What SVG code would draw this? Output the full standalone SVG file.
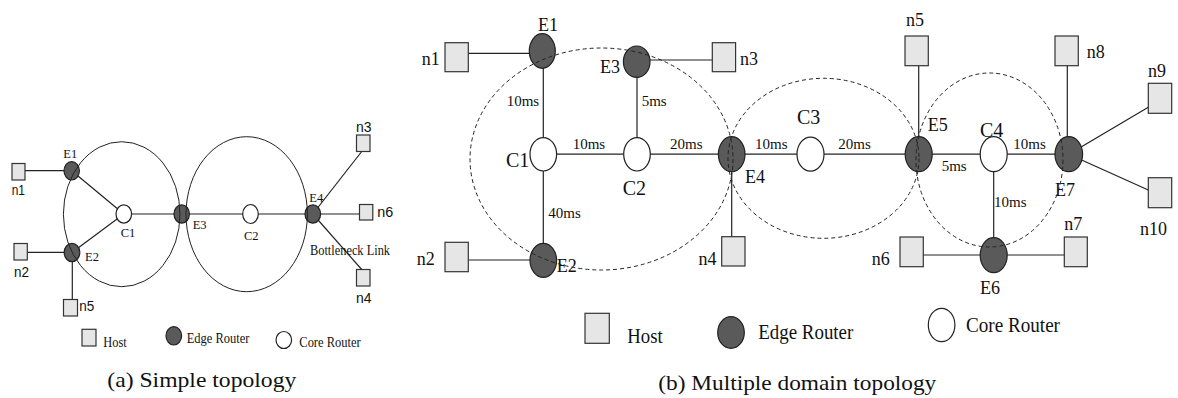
<svg xmlns="http://www.w3.org/2000/svg" width="1178" height="398" viewBox="0 0 1178 398">
  <style>
    .host { fill: #e6e6e6; stroke: #333; stroke-width: 1.2; }
    .edge { fill: #5a5a5a; stroke: #222; stroke-width: 1.2; }
    .core { fill: #fff; stroke: #222; stroke-width: 1.2; }
    .link { stroke: #222; stroke-width: 1.2; fill: none; }
    .ring { fill: none; stroke: #222; stroke-width: 1; }
    .domain { fill: none; stroke: #222; stroke-width: 1; stroke-dasharray: 4 3; }
    .serif { font-family: "Liberation Serif", "Times New Roman", serif; fill: #111; font-weight: normal; }
    .sans { font-family: "Liberation Sans", Arial, sans-serif; fill: #111; font-weight: normal; }
    .sm { font-size: 12.5px; }
    .smsans { font-size: 14px; }
    .lab { font-size: 18px; }
    .core-lab { font-size: 20px; }
    .ms { font-size: 15px; }
    .leg { font-size: 22px; }
    .cap { font-size: 22px; }
  </style>

  <!-- ===== (a) Simple topology ===== -->
  <g id="a-links" class="link">
    <line x1="25" y1="170.7" x2="71.7" y2="170.7"/>
    <line x1="71.7" y1="170.8" x2="123.8" y2="214"/>
    <line x1="72" y1="252.5" x2="123.8" y2="214"/>
    <line x1="27.3" y1="252.3" x2="72" y2="252.3"/>
    <line x1="72.3" y1="252.5" x2="72.3" y2="299.5"/>
    <line x1="123.8" y1="214" x2="359.5" y2="214"/>
    <line x1="312.8" y1="214" x2="361.7" y2="151.5"/>
    <line x1="312.8" y1="214" x2="361.7" y2="269.5"/>
  </g>

  <g id="a-n1"><rect class="host" x="12" y="163.5" width="13" height="16.5"/><text class="sans smsans" font-family="Liberation Sans, sans-serif" x="11.7" y="195" textLength="13.3" lengthAdjust="spacingAndGlyphs">n1</text></g>
  <g id="a-n2"><rect class="host" x="14" y="243.5" width="13.3" height="16.5"/><text class="sans smsans" font-family="Liberation Sans, sans-serif" x="14" y="276.7" textLength="15" lengthAdjust="spacingAndGlyphs">n2</text></g>
  <g id="a-n5"><rect class="host" x="63.5" y="299.5" width="14" height="16.5"/><text class="sans smsans" font-family="Liberation Sans, sans-serif" x="79.3" y="310.5" textLength="15" lengthAdjust="spacingAndGlyphs">n5</text></g>
  <g id="a-n3"><rect class="host" x="356.5" y="135" width="13.5" height="16.5"/><text class="sans smsans" font-family="Liberation Sans, sans-serif" x="356" y="131.7" textLength="15.5" lengthAdjust="spacingAndGlyphs">n3</text></g>
  <g id="a-n6"><rect class="host" x="359.5" y="204.5" width="13.3" height="15.5"/><text class="sans smsans" font-family="Liberation Sans, sans-serif" x="377.3" y="217.3" textLength="16" lengthAdjust="spacingAndGlyphs">n6</text></g>
  <g id="a-n4"><rect class="host" x="356.5" y="269.5" width="13.5" height="16.5"/><text class="sans smsans" font-family="Liberation Sans, sans-serif" x="356" y="303" textLength="15.5" lengthAdjust="spacingAndGlyphs">n4</text></g>

  <g id="a-E1"><ellipse class="edge" cx="71.7" cy="170.8" rx="7.7" ry="9.2"/><text class="serif sm" x="63.3" y="158">E1</text></g>
  <g id="a-E2"><ellipse class="edge" cx="72" cy="252.5" rx="7.8" ry="9.2"/><text class="serif sm" x="85" y="260.7">E2</text></g>
  <g id="a-E3"><ellipse class="edge" cx="181.7" cy="214" rx="7.7" ry="9.2"/><text class="serif sm" x="192.7" y="229">E3</text></g>
  <g id="a-E4"><ellipse class="edge" cx="312.8" cy="214" rx="7.8" ry="9.2"/><text class="serif sm" x="309.3" y="201.7">E4</text></g>
  <g id="a-C1"><ellipse class="core" cx="123.8" cy="214" rx="7.8" ry="9.2"/><text class="serif sm" x="120.7" y="237">C1</text></g>
  <g id="a-C2"><ellipse class="core" cx="250.5" cy="214" rx="7.8" ry="9.5"/><text class="serif sm" x="244" y="240">C2</text></g>

  <g id="a-domains">
    <ellipse class="ring" cx="121.7" cy="214.2" rx="58.3" ry="72.5"/>
    <ellipse class="ring" cx="246.7" cy="214.2" rx="60.7" ry="77.5"/>
  </g>
  <text class="serif" x="310" y="255" font-size="14" textLength="80" lengthAdjust="spacingAndGlyphs">Bottleneck Link</text>

  <g id="a-legend">
    <rect class="host" x="82" y="329.3" width="14" height="16.7"/>
    <text class="serif" x="103.3" y="346.5" font-size="14" textLength="23.4" lengthAdjust="spacingAndGlyphs">Host</text>
    <ellipse class="edge" cx="173.8" cy="335.8" rx="7.8" ry="9.2"/>
    <text class="serif" x="186.7" y="342.5" font-size="14" textLength="62.7" lengthAdjust="spacingAndGlyphs">Edge Router</text>
    <ellipse class="core" cx="283.8" cy="340" rx="7.8" ry="8.5"/>
    <text class="serif" x="299.3" y="346.5" font-size="14" textLength="61.4" lengthAdjust="spacingAndGlyphs">Core Router</text>
  </g>
  <text class="serif cap" x="107.3" y="387" textLength="189" lengthAdjust="spacingAndGlyphs">(a) Simple topology</text>

  <!-- ===== (b) Multiple domain topology ===== -->
  <g id="b-links" class="link">
    <line x1="468.3" y1="53.3" x2="542.3" y2="53.3"/>
    <line x1="543.3" y1="51" x2="543.3" y2="154.3"/>
    <line x1="543.3" y1="154.3" x2="543.3" y2="260.3"/>
    <line x1="468.3" y1="260" x2="543.3" y2="260"/>
    <line x1="636.7" y1="60" x2="712.3" y2="60"/>
    <line x1="637" y1="61.7" x2="637" y2="154.3"/>
    <line x1="543.3" y1="154.2" x2="1068.8" y2="154.2"/>
    <line x1="731.7" y1="154.2" x2="731.7" y2="236.7"/>
    <line x1="918.7" y1="65.7" x2="918.7" y2="154.2"/>
    <line x1="1067.3" y1="65.7" x2="1067.3" y2="154.2"/>
    <line x1="993.7" y1="154.2" x2="993.7" y2="255.2"/>
    <line x1="923.3" y1="255" x2="1064.3" y2="255"/>
    <line x1="1068.8" y1="154.2" x2="1148.3" y2="107.3"/>
    <line x1="1068.8" y1="154.2" x2="1148.3" y2="190"/>
  </g>

  <g id="b-n1"><rect class="host" x="445" y="42.7" width="23.3" height="29"/><text class="serif lab" x="421.7" y="65">n1</text></g>
  <g id="b-n2"><rect class="host" x="445" y="242.3" width="23.3" height="29.4"/><text class="serif lab" x="416.7" y="265">n2</text></g>
  <g id="b-n3"><rect class="host" x="712.3" y="42.7" width="23.3" height="29"/><text class="serif lab" x="740" y="65">n3</text></g>
  <g id="b-n4"><rect class="host" x="721.7" y="236.7" width="23.3" height="29.3"/><text class="serif lab" x="698.5" y="265">n4</text></g>
  <g id="b-n5"><rect class="host" x="905" y="36" width="23.3" height="29.7"/><text class="serif lab" x="906" y="26">n5</text></g>
  <g id="b-n6"><rect class="host" x="900" y="237" width="23.3" height="29.7"/><text class="serif lab" x="871.7" y="265">n6</text></g>
  <g id="b-n7"><rect class="host" x="1064.3" y="237" width="23" height="29.7"/><text class="serif lab" x="1064.3" y="230">n7</text></g>
  <g id="b-n8"><rect class="host" x="1055" y="36" width="23.3" height="29.7"/><text class="serif lab" x="1086.7" y="58">n8</text></g>
  <g id="b-n9"><rect class="host" x="1148.3" y="83.3" width="23.4" height="30"/><text class="serif lab" x="1148" y="77">n9</text></g>
  <g id="b-n10"><rect class="host" x="1148.3" y="177.7" width="23.4" height="30"/><text class="serif lab" x="1140" y="235">n10</text></g>

  <g id="b-E1"><ellipse class="edge" cx="542.3" cy="51" rx="13" ry="17.3"/><text class="serif lab" x="538" y="31">E1</text></g>
  <g id="b-E2"><ellipse class="edge" cx="543.3" cy="260.3" rx="13.3" ry="17"/><text class="serif lab" x="556.7" y="272">E2</text></g>
  <g id="b-E3"><ellipse class="edge" cx="636.7" cy="61.7" rx="13.3" ry="15.7"/><text class="serif lab" x="600" y="73">E3</text></g>
  <g id="b-E4"><ellipse class="edge" cx="731.7" cy="154.2" rx="13.3" ry="17.5"/><text class="serif lab" x="745" y="183">E4</text></g>
  <g id="b-E5"><ellipse class="edge" cx="918.7" cy="154.2" rx="13.5" ry="17.5"/><text class="serif lab" x="927.7" y="131">E5</text></g>
  <g id="b-E6"><ellipse class="edge" cx="993.7" cy="255.2" rx="13.5" ry="17.5"/><text class="serif lab" x="980" y="294">E6</text></g>
  <g id="b-E7"><ellipse class="edge" cx="1068.8" cy="154.2" rx="13.8" ry="17.5"/><text class="serif lab" x="1055" y="196">E7</text></g>

  <g id="b-C1"><ellipse class="core" cx="543.3" cy="154.3" rx="13.3" ry="16.7"/><text class="serif core-lab" x="506" y="167">C1</text></g>
  <g id="b-C2"><ellipse class="core" cx="637" cy="154.3" rx="13.3" ry="16.7"/><text class="serif core-lab" x="622.7" y="195">C2</text></g>
  <g id="b-C3"><ellipse class="core" cx="810.5" cy="154.2" rx="13.5" ry="17"/><text class="serif core-lab" x="797" y="124">C3</text></g>
  <g id="b-C4"><ellipse class="core" cx="993.7" cy="154.2" rx="13.5" ry="17.5"/><text class="serif core-lab" x="980" y="136.5">C4</text></g>

  <g id="b-delays" class="serif ms">
    <text x="506.7" y="106">10ms</text>
    <text x="641.7" y="106">5ms</text>
    <text x="572.7" y="149">10ms</text>
    <text x="670" y="149">20ms</text>
    <text x="548.3" y="218">40ms</text>
    <text x="755" y="149">10ms</text>
    <text x="838.3" y="149">20ms</text>
    <text x="941.7" y="170.7">5ms</text>
    <text x="1013.3" y="149">10ms</text>
    <text x="994" y="206.7">10ms</text>
  </g>

  <g id="b-domains">
    <ellipse class="domain" cx="601.5" cy="159" rx="131.5" ry="111"/>
    <ellipse class="domain" cx="823.5" cy="158.3" rx="95.5" ry="80"/>
    <ellipse class="domain" cx="989.5" cy="160" rx="73.5" ry="87"/>
  </g>

  <g id="b-legend">
    <rect class="host" x="585" y="313.3" width="24.3" height="30"/>
    <text class="serif leg" x="627.3" y="343" textLength="35.4" lengthAdjust="spacingAndGlyphs">Host</text>
    <ellipse class="edge" cx="731" cy="332.5" rx="13.3" ry="15.8"/>
    <text class="serif leg" x="758.3" y="338.5" textLength="95" lengthAdjust="spacingAndGlyphs">Edge Router</text>
    <ellipse class="core" cx="941.6" cy="325" rx="13.3" ry="16.7"/>
    <text class="serif leg" x="966" y="332" textLength="94" lengthAdjust="spacingAndGlyphs">Core Router</text>
  </g>
  <text class="serif cap" x="658.3" y="390" textLength="278" lengthAdjust="spacingAndGlyphs">(b) Multiple domain topology</text>
</svg>
